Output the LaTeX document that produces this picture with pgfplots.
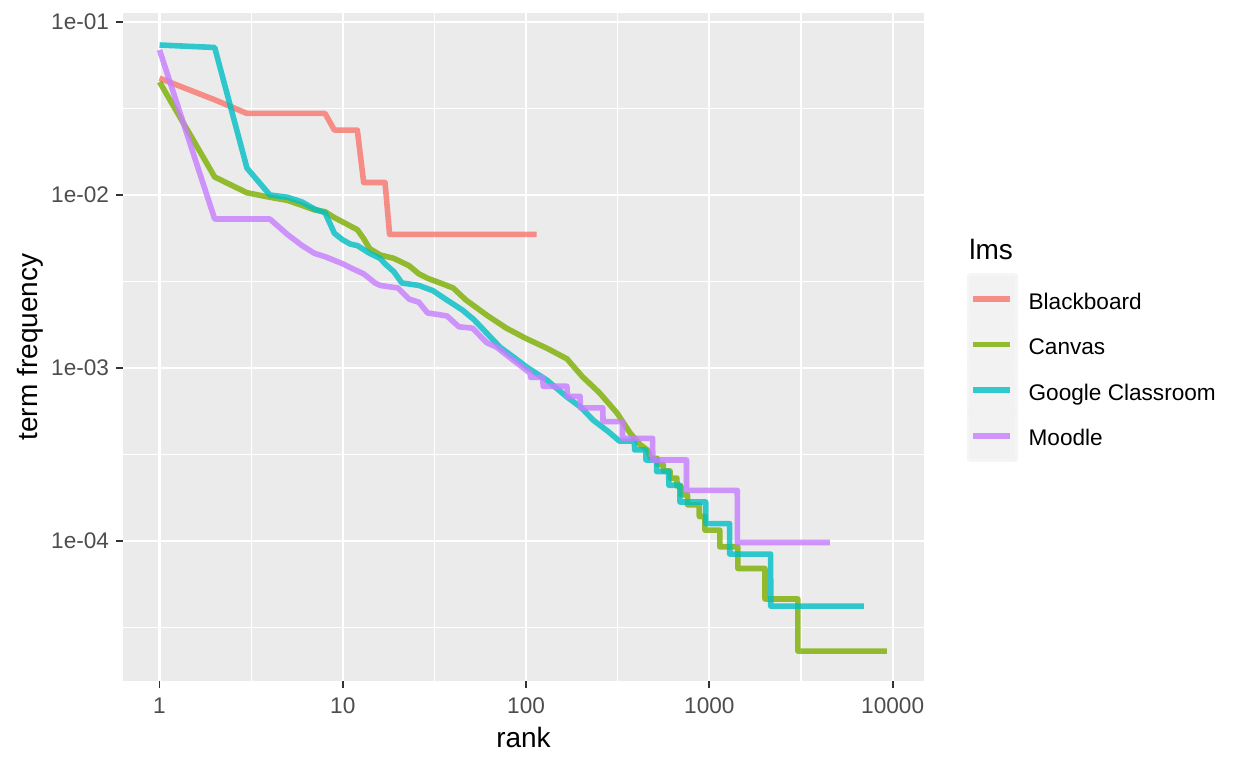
\documentclass[border=0pt]{standalone}
\usepackage{fontspec}
\setmainfont{Liberation Sans}
\usepackage{pgfplots}
\pgfplotsset{compat=1.18}

\definecolor{panel}{HTML}{EBEBEB}
\definecolor{keybg}{HTML}{F2F2F2}
\definecolor{tickcol}{HTML}{333333}
\definecolor{ticklab}{HTML}{4D4D4D}
\definecolor{bb}{HTML}{F8766D}
\definecolor{cv}{HTML}{7CAE00}
\definecolor{gc}{HTML}{00BFC4}
\definecolor{md}{HTML}{C77CFF}

\begin{document}
\begin{tikzpicture}
\useasboundingbox (-61.5pt,-43.65pt) rectangle (562.5pt,340.35pt);
\begin{axis}[
    xmode=log, ymode=log,
    scale only axis,
    width=400.5pt, height=333.7pt,
    xmin=0.632, xmax=14825,
    ymin=1.557e-5, ymax=0.1122,
    axis background/.style={fill=panel},
    axis line style={draw=none},
    xtick={1,10,100,1000,10000},
    xticklabels={1,10,100,1000,10000},
    ytick={1e-1,1e-2,1e-3,1e-4},
    yticklabels={1e-01,1e-02,1e-03,1e-04},
    minor xtick={3.1623,31.623,316.23,3162.3},
    minor ytick={3.1623e-2,3.1623e-3,3.1623e-4,3.1623e-5},
    grid=both,
    major grid style={white, line width=1.1pt},
    minor grid style={white, line width=0.55pt},
    tick align=outside, tick pos=left,
    major tick length=3.5pt, minor tick length=0pt,
    tick style={tickcol, line width=0.9pt},
    xticklabel style={font=\fontsize{11.3}{13}\selectfont, color=ticklab, anchor=north, inner sep=0pt, yshift=-5pt},
    yticklabel style={font=\fontsize{11.3}{13}\selectfont, color=ticklab, anchor=east, inner sep=0pt, xshift=-3.3pt},
    xlabel={rank},
    xlabel style={at={(axis description cs:0.5,-0.09979)}, anchor=base, inner sep=0pt, font=\fontsize{14}{16}\selectfont},
    ylabel={term frequency},
    ylabel style={at={(axis description cs:-0.10699,0.5)}, anchor=base, inner sep=0pt, font=\fontsize{14}{16}\selectfont},
    legend style={at={(axis description cs:1.0531,0.6105)}, anchor=north west,
        draw=none, fill=none, inner sep=0pt, outer sep=0pt,
        row sep=-3pt, column sep=5.25pt,
        font=\fontsize{11.3}{13}\selectfont,
        nodes={inner sep=0pt, anchor=base west}},
    legend image code/.code={
        \fill[keybg] (0pt,-6.5pt) rectangle (23pt,16.5pt);
        \draw[#1] (1.85pt,5pt) -- (20.5pt,5pt);
    },
    every axis plot/.append style={line width=2.8pt, draw opacity=0.8, line join=round, line cap=butt, no markers},
]
% Blackboard
\addplot[bb] coordinates {
 (1,0.0473) (2,0.0355) (3,0.0296) (8,0.0296) (9,0.0237) (12,0.0237)
 (13,0.0118) (17,0.0118) (18,0.00592) (114,0.00592)
};
\addlegendentry{Blackboard}
% Canvas
\addplot[cv] coordinates {
 (1,0.0450) (2,0.0127) (3,0.0103) (4,0.0097) (5,0.0093) (6,0.0087) (7,0.0082)
 (8,0.0080) (9,0.0074) (12,0.0063) (13,0.0056) (14,0.0049) (16,0.0045)
 (19,0.0043) (23,0.0039) (26,0.0035) (29,0.0033) (34,0.0031) (40,0.0029)
 (47,0.00247) (61,0.00202) (78,0.0017) (100,0.00148) (130,0.00130)
 (167,0.00113) (203,0.00089) (251,0.00072) (313,0.00055) (370,0.00042)
 (420,0.00036) (460,0.000335) (480,3.003e-4) (520,3.003e-4)
 (521,2.772e-4) (560,2.772e-4) (561,2.541e-4) (610,2.541e-4)
 (611,2.31e-4) (665,2.31e-4) (666,2.079e-4) (700,2.079e-4)
 (701,1.848e-4) (760,1.848e-4) (761,1.617e-4) (880,1.617e-4)
 (881,1.386e-4) (945,1.386e-4) (946,1.155e-4) (1140,1.155e-4)
 (1141,9.24e-5) (1430,9.24e-5) (1431,6.93e-5) (2010,6.93e-5)
 (2011,4.62e-5) (3040,4.62e-5) (3041,2.31e-5) (9300,2.31e-5)
};
\addlegendentry{Canvas}
% Google Classroom
\addplot[gc] coordinates {
 (1,0.0736) (2,0.0712) (3,0.0143) (4,0.0100) (5,0.0097) (6,0.0091) (7,0.0083)
 (8,0.0079) (9,0.0060) (10,0.0055) (11,0.0052) (12,0.0051) (14,0.0046)
 (16,0.0043) (17,0.0040) (19,0.0036) (21,0.0031) (26,0.0030) (31,0.0028)
 (37,0.00247) (45,0.00216) (52,0.0019) (61,0.00159) (72,0.00132)
 (86,0.00115) (101,0.00101) (130,0.00085) (167,0.00068) (200,0.00059)
 (232,0.00050) (280,0.00043) (323,3.78e-4) (390,3.78e-4)
 (391,3.36e-4) (450,3.36e-4) (451,2.94e-4) (515,2.94e-4)
 (516,2.52e-4) (600,2.52e-4) (601,2.1e-4) (690,2.1e-4)
 (691,1.68e-4) (955,1.68e-4) (956,1.26e-4) (1290,1.26e-4)
 (1291,8.4e-5) (2160,8.4e-5) (2161,4.2e-5) (6970,4.2e-5)
};
\addlegendentry{Google Classroom}
% Moodle
\addplot[md] coordinates {
 (1,0.0689) (2,0.00726) (4,0.00726) (5,0.0059) (6,0.0051) (7,0.0046)
 (8,0.0044) (10,0.0040) (11,0.0038) (13,0.0035) (15,0.0031) (16,0.0030)
 (20,0.0029) (23,0.00250) (26,0.0024) (29,0.00208) (37,0.0020)
 (43,0.00173) (51,0.0017) (61,0.0014) (69,0.00132) (85,0.00111)
 (105,0.000935) (106,8.82e-4) (123,8.82e-4) (124,7.84e-4) (167,7.84e-4)
 (168,6.86e-4) (197,6.86e-4) (198,5.88e-4) (262,5.88e-4)
 (263,4.9e-4) (335,4.9e-4) (336,3.92e-4) (490,3.92e-4)
 (491,2.94e-4) (750,2.94e-4) (751,1.96e-4) (1420,1.96e-4)
 (1421,9.8e-5) (4550,9.8e-5)
};
\addlegendentry{Moodle}
\end{axis}
\node[anchor=base west, inner sep=0pt, font=\fontsize{14}{16}\selectfont] at (423pt,210.7pt) {lms};
\end{tikzpicture}
\end{document}
